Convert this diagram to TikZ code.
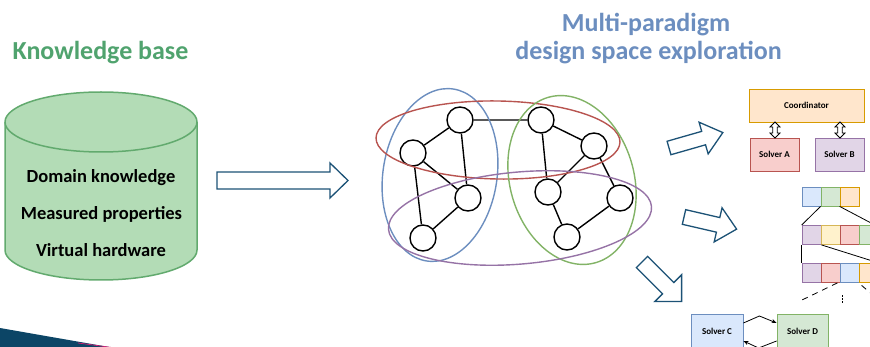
\documentclass[tikz,border=0pt]{standalone}
\usepackage{fontspec}
\setmainfont{Carlito}
\usetikzlibrary{arrows.meta}
\definecolor{kbgreen}{RGB}{80,163,110}
\definecolor{titleblue}{RGB}{108,142,191}
\definecolor{cylfill}{RGB}{179,220,182}
\definecolor{cylline}{RGB}{98,170,110}
\definecolor{arrowteal}{RGB}{28,82,118}
\definecolor{swoosh}{RGB}{12,69,102}
\definecolor{bluef}{HTML}{DAE8FC}\definecolor{bluel}{HTML}{6C8EBF}
\definecolor{greenf}{HTML}{D5E8D4}\definecolor{greenl}{HTML}{82B366}
\definecolor{orangef}{HTML}{FFE6CC}\definecolor{orangel}{HTML}{D79B00}
\definecolor{purplef}{HTML}{E1D5E7}\definecolor{purplel}{HTML}{9673A6}
\definecolor{yellowf}{HTML}{FFF2CC}\definecolor{yellowl}{HTML}{D6B656}
\definecolor{redf}{HTML}{F8CECC}\definecolor{redl}{HTML}{B85450}
\newcommand{\hollowarrow}[7]{%
  \begin{scope}[shift={(#1,#2)},rotate=#3]
    \draw[arrowline] (0,#5) -- ({#4-#7},#5) -- ({#4-#7},#6) -- (#4,0) -- ({#4-#7},-#6) -- ({#4-#7},-#5) -- (0,-#5) -- cycle;
  \end{scope}}
\newcommand{\dblarrow}[3]{%
  \draw[line width=0.8pt,fill=white] (#1,#2) -- ({#1+5},{#2+5}) -- ({#1+2.3},{#2+5}) -- ({#1+2.3},{#3-5}) -- ({#1+5},{#3-5}) -- (#1,#3) -- ({#1-5},{#3-5}) -- ({#1-2.3},{#3-5}) -- ({#1-2.3},{#2+5}) -- ({#1-5},{#2+5}) -- cycle;}
\tikzset{
  arrowline/.style={draw=arrowteal,line width=1.3pt,line join=miter,fill=white},
  gnode/.style={circle,draw=black,line width=1.4pt,fill=white,minimum size=26pt,inner sep=0pt},
  gedge/.style={draw=black,line width=1.4pt},
  grp/.style={line width=1.4pt},
  cbox/.style={draw=#1l,fill=#1f,line width=0.8pt,inner sep=0pt,font=\bfseries\fontsize{9}{10}\selectfont},
  tb/.style={draw=#1l,fill=#1f,line width=0.8pt,minimum size=19pt,inner sep=0pt},
  tline/.style={draw=black,line width=0.8pt},
  kbtext/.style={anchor=base,inner sep=0pt,font=\bfseries\fontsize{18.5}{22}\selectfont,text=black},
  ttl/.style={anchor=base,inner sep=0pt,font=\bfseries\fontsize{26}{29}\selectfont},
}
\begin{document}
\begin{tikzpicture}[x=1pt,y=-1pt]
\useasboundingbox (0,0) rectangle (870,347);
\clip (0,0) rectangle (870,347);
% titles
\node[ttl,text=kbgreen] (kbtitle) at (100.5,60) {Knowledge base};
\node[ttl,text=titleblue] (dsetitle1) at (646,32) {Multi-paradigm};
\node[ttl,text=titleblue] (dsetitle2) at (648.5,60) {design space exploration};
% cylinder
\path[fill=cylfill,draw=cylline,line width=1.5pt] (5,122) -- (5,250) arc[start angle=180,end angle=360,x radius=96pt,y radius=30pt] -- (197,122) arc[start angle=0,end angle=180,x radius=96pt,y radius=30pt] -- cycle;
\draw[draw=cylline,line width=1.5pt] (5,122) arc[start angle=180,end angle=360,x radius=96pt,y radius=30pt];
\node[kbtext] (dk) at (101,183) {Domain knowledge};
\node[kbtext] (mp) at (101.5,220) {Measured properties};
\node[kbtext] (vh) at (101,257) {Virtual hardware};
% big arrow
\hollowarrow{217}{180.5}{0}{131}{8.5}{17.5}{18}
% graph
\node[gnode] (n1) at (460,120) {};
\node[gnode] (n2) at (413,153) {};
\node[gnode] (n3) at (468,198) {};
\node[gnode] (n4) at (423,238) {};
\node[gnode] (n5) at (541,120) {};
\node[gnode] (n6) at (594,146) {};
\node[gnode] (n7) at (548,192) {};
\node[gnode] (n8) at (620,198) {};
\node[gnode] (n9) at (567,237) {};
\draw[gedge] (n1)--(n5) (n1)--(n2) (n1)--(n3) (n2)--(n3) (n2)--(n4) (n3)--(n4)
  (n5)--(n6) (n5)--(n7) (n6)--(n7) (n6)--(n8) (n8)--(n9) (n7)--(n9);
% groups
\draw[grp,draw=bluel] (440,175) ellipse[x radius=57pt,y radius=87pt,rotate=-9];
\draw[grp,draw=redl] (498,140) ellipse[x radius=122pt,y radius=39pt,rotate=-1];
\draw[grp,draw=greenl] (572,180) ellipse[x radius=62pt,y radius=86pt,rotate=16];
\draw[grp,draw=purplel] (520,218) ellipse[x radius=132pt,y radius=46pt,rotate=5];
% small arrows
\hollowarrow{669}{148}{16}{56}{7}{16.5}{20}
\hollowarrow{684}{217}{-13}{54}{7.5}{17.5}{19}
\hollowarrow{642}{262}{-45}{56}{8}{19}{19}
% coordinator
\node[cbox=orange,minimum width=115pt,minimum height=33pt] (coord) at (806.5,105.5) {Coordinator};
\node[cbox=red,minimum width=49pt,minimum height=33pt] (sa) at (774.5,154.5) {Solver A};
\node[cbox=purple,minimum width=49pt,minimum height=33pt] (sb) at (839.5,154.5) {Solver B};
\dblarrow{775}{122}{138}
\dblarrow{840}{122}{138}
% tree
\node[tb=blue] (a1) at (811.5,196.5) {};
\node[tb=green] (a2) at (830.5,196.5) {};
\node[tb=orange] (a3) at (849.5,196.5) {};
\node[tb=purple] (b1) at (811.5,235) {};
\node[tb=yellow] (b2) at (830.5,235) {};
\node[tb=red] (b3) at (849.5,235) {};
\node[tb=green] (b4) at (868.5,235) {};
\node[tb=purple] (c1) at (811.5,272.5) {};
\node[tb=red] (c2) at (830.5,272.5) {};
\node[tb=blue] (c3) at (849.5,272.5) {};
\node[tb=orange] (c4) at (868.5,272.5) {};
\coordinate (e1) at (890,233);
\coordinate (e2) at (890,266.5);
\coordinate (d1) at (802,300);
\coordinate (d2) at (874,296);
\draw[tline] (a2.south west) -- (b1.north west);
\draw[tline] (a3.south west) -- (e1);
\draw[tline] (b1.south west) -- (c1.north west);
\draw[tline] (b1.south east) -- (e2);
\draw[tline,dash pattern=on 6pt off 5pt] (c2.south east) ++(-3,0.5) -- (d1);
\draw[tline,dash pattern=on 6pt off 5pt] (c4.south west) ++(3,3) -- (d2);
\draw[line width=1pt,dash pattern=on 1.5pt off 1.5pt] (842,295.5) -- (842,304);
% solver C / D
\node[cbox=blue,minimum width=52pt,minimum height=34pt] (sc) at (717,331) {Solver C};
\node[cbox=green,minimum width=51pt,minimum height=34pt] (sd) at (802.5,331) {Solver D};
\draw[line width=0.8pt,-{Stealth[length=5pt,width=4pt]}] ([yshift=8pt]sc.east) -- ++(16,-7) -- ([yshift=8pt]sd.west);
\draw[line width=0.8pt,-{Stealth[length=5pt,width=4pt]}] ([yshift=-10pt]sd.west) -- ++(-18,7) -- ([yshift=-10pt]sc.east);
% swoosh
\fill[swoosh] (0,328) .. controls (40,335) and (80,342) .. (112,347.5) -- (0,348) -- cycle;
\draw[magenta!60!purple,line width=0.7pt] (78,343) .. controls (95,345) .. (112,347.5);
\end{tikzpicture}
\end{document}
